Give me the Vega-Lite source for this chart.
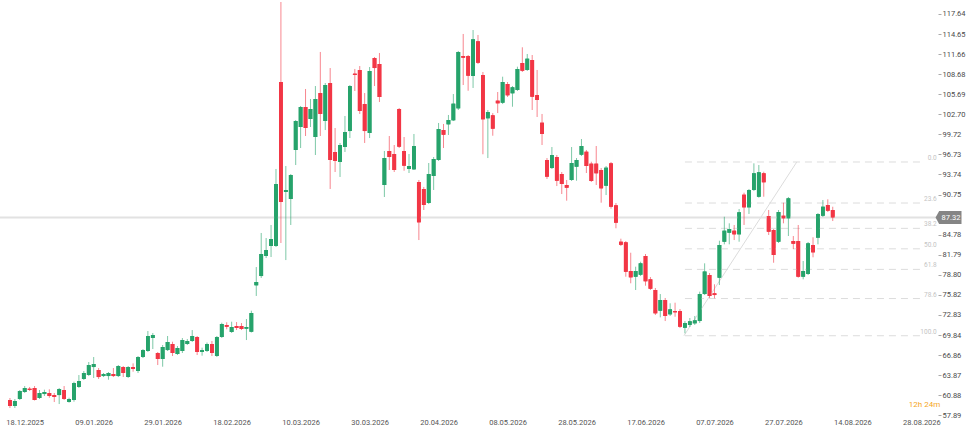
{
"$schema": "https://vega.github.io/schema/vega-lite/v6.json",
"width": 938, "height": 416, "autosize": "none",
"padding": {"left": 0, "top": 0, "right": 28, "bottom": 16},
"background": "white",
"config": {"view": {"stroke": null}, "font": "Roboto", "axis": {"labelOverlap": false}},
"datasets": {
"k": [
{"i":0,"o":60.16,"h":60.46,"l":58.97,"c":59.27},
{"i":1,"o":59.27,"h":60.31,"l":58.97,"c":60.01},
{"i":2,"o":60.31,"h":61.65,"l":60.16,"c":61.50},
{"i":3,"o":61.35,"h":62.24,"l":61.20,"c":61.95},
{"i":4,"o":61.84,"h":62.10,"l":61.50,"c":61.65},
{"i":5,"o":61.95,"h":62.24,"l":60.09,"c":60.16},
{"i":6,"o":60.46,"h":61.65,"l":60.31,"c":61.20},
{"i":7,"o":61.05,"h":61.70,"l":60.76,"c":61.35},
{"i":8,"o":61.20,"h":61.75,"l":60.50,"c":60.76},
{"i":9,"o":60.90,"h":61.20,"l":59.86,"c":60.61},
{"i":10,"o":60.90,"h":61.95,"l":59.56,"c":61.80},
{"i":11,"o":61.65,"h":62.24,"l":60.16,"c":60.31},
{"i":12,"o":59.86,"h":60.50,"l":59.76,"c":60.31},
{"i":13,"o":60.16,"h":62.89,"l":59.91,"c":62.69},
{"i":14,"o":62.10,"h":63.88,"l":61.95,"c":62.99},
{"i":15,"o":63.29,"h":64.48,"l":63.14,"c":64.18},
{"i":16,"o":63.88,"h":65.82,"l":63.73,"c":65.37},
{"i":17,"o":65.07,"h":66.56,"l":63.44,"c":65.52},
{"i":18,"o":64.63,"h":64.92,"l":63.29,"c":63.58},
{"i":19,"o":63.73,"h":64.18,"l":63.58,"c":64.03},
{"i":20,"o":63.73,"h":64.33,"l":63.18,"c":64.18},
{"i":21,"o":64.03,"h":64.92,"l":63.58,"c":63.73},
{"i":22,"o":63.73,"h":65.37,"l":63.58,"c":65.22},
{"i":23,"o":65.07,"h":65.22,"l":63.58,"c":64.18},
{"i":24,"o":63.58,"h":65.22,"l":63.44,"c":65.07},
{"i":25,"o":65.07,"h":65.62,"l":64.38,"c":64.78},
{"i":26,"o":64.48,"h":66.71,"l":64.18,"c":66.56},
{"i":27,"o":66.56,"h":67.75,"l":66.41,"c":67.60},
{"i":28,"o":67.46,"h":70.43,"l":67.31,"c":69.69},
{"i":29,"o":69.39,"h":70.14,"l":67.75,"c":69.84},
{"i":30,"o":67.16,"h":67.31,"l":65.37,"c":66.27},
{"i":31,"o":66.27,"h":68.35,"l":65.12,"c":68.05},
{"i":32,"o":67.60,"h":69.69,"l":67.46,"c":68.80},
{"i":33,"o":68.50,"h":68.84,"l":66.71,"c":67.16},
{"i":34,"o":67.01,"h":68.20,"l":66.86,"c":67.90},
{"i":35,"o":67.46,"h":69.39,"l":67.16,"c":69.09},
{"i":36,"o":68.50,"h":69.24,"l":68.35,"c":68.95},
{"i":37,"o":68.95,"h":70.58,"l":68.80,"c":69.69},
{"i":38,"o":69.54,"h":69.69,"l":66.86,"c":67.31},
{"i":39,"o":67.31,"h":67.95,"l":66.76,"c":67.60},
{"i":40,"o":67.46,"h":68.72,"l":67.31,"c":68.50},
{"i":41,"o":68.50,"h":68.95,"l":66.71,"c":67.16},
{"i":42,"o":66.71,"h":69.69,"l":66.56,"c":69.54},
{"i":43,"o":69.54,"h":71.67,"l":69.39,"c":71.48},
{"i":44,"o":71.33,"h":71.73,"l":70.69,"c":71.07},
{"i":45,"o":70.29,"h":71.82,"l":70.14,"c":71.03},
{"i":46,"o":71.18,"h":71.77,"l":70.58,"c":70.88},
{"i":47,"o":71.18,"h":71.62,"l":70.58,"c":70.73},
{"i":48,"o":70.78,"h":72.22,"l":69.09,"c":71.03},
{"i":49,"o":70.33,"h":73.46,"l":70.21,"c":73.11},
{"i":50,"o":77.24,"h":79.96,"l":75.65,"c":77.73},
{"i":51,"o":78.62,"h":85.03,"l":78.33,"c":81.90},
{"i":52,"o":81.60,"h":84.28,"l":81.30,"c":82.49},
{"i":53,"o":83.09,"h":86.22,"l":81.45,"c":84.13},
{"i":54,"o":83.09,"h":94.56,"l":82.94,"c":92.32},
{"i":55,"o":107.51,"h":119.42,"l":83.54,"c":89.64},
{"i":56,"o":91.13,"h":95.00,"l":81.00,"c":91.43},
{"i":57,"o":90.09,"h":93.81,"l":86.22,"c":93.66},
{"i":58,"o":97.39,"h":101.85,"l":95.15,"c":101.70},
{"i":59,"o":100.81,"h":103.94,"l":97.68,"c":103.79},
{"i":60,"o":103.79,"h":106.47,"l":99.47,"c":100.66},
{"i":61,"o":102.00,"h":104.98,"l":100.81,"c":103.49},
{"i":62,"o":99.32,"h":106.91,"l":96.64,"c":104.98},
{"i":63,"o":105.87,"h":111.98,"l":99.47,"c":102.75},
{"i":64,"o":101.70,"h":107.36,"l":100.36,"c":107.06},
{"i":65,"o":107.36,"h":109.59,"l":91.58,"c":95.90},
{"i":66,"o":97.09,"h":100.66,"l":94.11,"c":95.75},
{"i":67,"o":95.60,"h":98.43,"l":93.37,"c":98.13},
{"i":68,"o":97.83,"h":102.45,"l":97.09,"c":100.07},
{"i":69,"o":100.21,"h":107.06,"l":99.17,"c":106.91},
{"i":70,"o":108.75,"h":109.45,"l":106.17,"c":108.55},
{"i":71,"o":109.30,"h":109.89,"l":102.75,"c":103.19},
{"i":72,"o":104.23,"h":105.87,"l":98.43,"c":100.21},
{"i":73,"o":99.92,"h":109.74,"l":99.17,"c":109.15},
{"i":74,"o":111.08,"h":111.23,"l":106.91,"c":109.59},
{"i":75,"o":110.19,"h":111.83,"l":104.53,"c":105.28},
{"i":76,"o":92.17,"h":97.24,"l":90.39,"c":96.19},
{"i":77,"o":97.24,"h":99.47,"l":94.41,"c":96.34},
{"i":78,"o":96.79,"h":98.13,"l":94.11,"c":94.41},
{"i":79,"o":103.49,"h":103.64,"l":97.68,"c":97.88},
{"i":80,"o":97.24,"h":99.32,"l":94.30,"c":95.05},
{"i":81,"o":94.56,"h":96.79,"l":93.96,"c":95.00},
{"i":82,"o":94.51,"h":99.77,"l":94.41,"c":97.98},
{"i":83,"o":92.62,"h":92.92,"l":83.98,"c":86.62},
{"i":84,"o":91.58,"h":91.88,"l":88.45,"c":89.20},
{"i":85,"o":89.49,"h":95.45,"l":89.34,"c":93.81},
{"i":86,"o":93.51,"h":96.34,"l":91.43,"c":96.05},
{"i":87,"o":95.90,"h":101.41,"l":95.75,"c":100.51},
{"i":88,"o":100.36,"h":101.26,"l":97.68,"c":99.66},
{"i":89,"o":101.21,"h":102.60,"l":99.62,"c":101.85},
{"i":90,"o":101.81,"h":105.72,"l":101.70,"c":104.28},
{"i":91,"o":103.59,"h":112.13,"l":103.34,"c":111.98},
{"i":92,"o":111.38,"h":114.66,"l":107.06,"c":111.13},
{"i":93,"o":111.38,"h":111.53,"l":106.21,"c":108.45},
{"i":94,"o":108.40,"h":115.25,"l":106.62,"c":113.87},
{"i":95,"o":113.57,"h":114.51,"l":110.19,"c":110.38},
{"i":96,"o":108.55,"h":109.00,"l":96.75,"c":101.96},
{"i":97,"o":102.11,"h":103.34,"l":96.19,"c":103.04},
{"i":98,"o":102.55,"h":102.89,"l":99.51,"c":100.56},
{"i":99,"o":104.73,"h":106.02,"l":102.89,"c":104.34},
{"i":100,"o":104.43,"h":108.30,"l":104.23,"c":107.51},
{"i":101,"o":107.21,"h":107.51,"l":105.28,"c":105.53},
{"i":102,"o":105.83,"h":106.91,"l":103.83,"c":106.72},
{"i":103,"o":106.32,"h":109.79,"l":106.17,"c":109.45},
{"i":104,"o":110.34,"h":112.68,"l":109.00,"c":109.19},
{"i":105,"o":109.30,"h":111.68,"l":109.15,"c":110.98},
{"i":106,"o":110.79,"h":111.53,"l":103.34,"c":105.32},
{"i":107,"o":105.57,"h":109.30,"l":102.30,"c":104.83},
{"i":108,"o":101.45,"h":102.75,"l":98.13,"c":99.77},
{"i":109,"o":95.90,"h":96.19,"l":93.07,"c":93.41},
{"i":110,"o":94.70,"h":97.83,"l":94.56,"c":96.64},
{"i":111,"o":96.34,"h":96.64,"l":92.02,"c":92.81},
{"i":112,"o":93.81,"h":94.11,"l":90.83,"c":92.32},
{"i":113,"o":92.17,"h":92.92,"l":89.84,"c":91.77},
{"i":114,"o":92.92,"h":97.83,"l":92.77,"c":95.45},
{"i":115,"o":94.90,"h":96.19,"l":92.81,"c":95.90},
{"i":116,"o":96.69,"h":99.02,"l":96.49,"c":97.98},
{"i":117,"o":97.13,"h":97.39,"l":93.96,"c":95.00},
{"i":118,"o":95.35,"h":95.64,"l":92.62,"c":92.77},
{"i":119,"o":95.35,"h":97.98,"l":92.17,"c":93.92},
{"i":120,"o":94.41,"h":94.70,"l":89.54,"c":91.68},
{"i":121,"o":92.07,"h":95.00,"l":90.68,"c":94.75},
{"i":122,"o":95.40,"h":95.60,"l":88.65,"c":88.94},
{"i":123,"o":89.15,"h":89.49,"l":85.73,"c":86.56},
{"i":124,"o":83.73,"h":84.18,"l":83.09,"c":83.28},
{"i":125,"o":83.64,"h":83.83,"l":78.52,"c":79.26},
{"i":126,"o":79.37,"h":82.09,"l":77.54,"c":78.43},
{"i":127,"o":78.52,"h":80.01,"l":76.54,"c":79.37},
{"i":128,"o":78.82,"h":80.75,"l":78.62,"c":80.51},
{"i":129,"o":81.60,"h":81.90,"l":77.18,"c":77.84},
{"i":130,"o":78.13,"h":78.47,"l":76.54,"c":76.73},
{"i":131,"o":76.54,"h":76.84,"l":72.82,"c":73.07},
{"i":132,"o":73.46,"h":75.94,"l":72.47,"c":75.05},
{"i":133,"o":75.05,"h":75.35,"l":71.92,"c":72.67},
{"i":134,"o":72.92,"h":74.56,"l":72.67,"c":73.66},
{"i":135,"o":73.41,"h":74.65,"l":72.56,"c":73.22},
{"i":136,"o":73.41,"h":73.71,"l":70.88,"c":71.07},
{"i":137,"o":70.92,"h":71.92,"l":70.09,"c":71.63},
{"i":138,"o":71.33,"h":72.37,"l":71.03,"c":71.88},
{"i":139,"o":71.58,"h":72.67,"l":71.33,"c":72.03},
{"i":140,"o":71.92,"h":76.29,"l":71.63,"c":75.94},
{"i":141,"o":75.94,"h":80.51,"l":75.79,"c":79.29},
{"i":142,"o":78.77,"h":79.07,"l":75.35,"c":75.65},
{"i":143,"o":76.05,"h":77.39,"l":75.30,"c":75.79},
{"i":144,"o":78.37,"h":83.88,"l":77.28,"c":83.24},
{"i":145,"o":83.73,"h":87.45,"l":83.34,"c":85.37},
{"i":146,"o":85.07,"h":86.47,"l":83.34,"c":85.62},
{"i":147,"o":85.37,"h":86.22,"l":83.98,"c":84.83},
{"i":148,"o":84.83,"h":88.60,"l":83.73,"c":88.11},
{"i":149,"o":90.73,"h":91.03,"l":86.22,"c":88.85},
{"i":150,"o":88.85,"h":91.58,"l":87.86,"c":91.43},
{"i":151,"o":91.43,"h":95.40,"l":91.28,"c":93.92},
{"i":152,"o":90.43,"h":95.15,"l":90.28,"c":94.07},
{"i":153,"o":93.92,"h":94.15,"l":90.43,"c":92.58},
{"i":154,"o":87.56,"h":88.45,"l":84.73,"c":85.22},
{"i":155,"o":85.47,"h":85.62,"l":80.60,"c":81.75},
{"i":156,"o":83.73,"h":88.45,"l":83.54,"c":88.15},
{"i":157,"o":87.60,"h":89.54,"l":86.47,"c":87.21},
{"i":158,"o":87.21,"h":90.39,"l":84.58,"c":90.19},
{"i":159,"o":83.83,"h":84.58,"l":82.64,"c":83.43},
{"i":160,"o":83.83,"h":86.22,"l":78.37,"c":78.52},
{"i":161,"o":78.52,"h":80.86,"l":78.13,"c":79.37},
{"i":162,"o":78.92,"h":83.69,"l":78.77,"c":83.49},
{"i":163,"o":83.24,"h":84.39,"l":81.41,"c":82.15},
{"i":164,"o":84.33,"h":88.00,"l":83.34,"c":87.86},
{"i":165,"o":87.60,"h":89.94,"l":87.41,"c":88.94},
{"i":166,"o":89.20,"h":90.04,"l":88.15,"c":88.35},
{"i":167,"o":88.45,"h":88.94,"l":86.81,"c":87.32}
],
"fib": [
{"lbl":"0.0","v":95.60},
{"lbl":"23.6","v":89.49},
{"lbl":"38.2","v":85.72},
{"lbl":"50.0","v":82.67},
{"lbl":"61.8","v":79.61},
{"lbl":"78.6","v":75.27},
{"lbl":"100.0","v":69.73}
],
"diag": [
{"i":136.8,"v":69.73},
{"i":159.7,"v":95.60}
],
"last": [{"p":87.32,"txt":"87.32"}]
},
"layer": [
{
"data": {"name": "k"},
"mark": {"type": "bar", "orient": "vertical", "width": 3.8},
"encoding": {
"x": {"field": "i", "type": "quantitative",
"scale": {"domain": [-1, 187.35], "nice": false, "zero": false},
"axis": {"values": [3, 17, 31, 45, 59, 73, 87, 101, 115, 129, 143, 157, 171, 185], "tickCount": 30,
"labelExpr": "['18.12.2025','09.01.2026','29.01.2026','18.02.2026','10.03.2026','30.03.2026','20.04.2026','08.05.2026','28.05.2026','17.06.2026','07.07.2026','27.07.2026','14.08.2026','28.08.2026'][round((datum.value-3)/14)]",
"labelFontSize": 7.5, "labelColor": "#555555", "ticks": false, "domain": false, "grid": false, "title": null,
"labelPadding": 2, "labelFlush": false, "labelOverlap": false}},
"y": {"field": "o", "type": "quantitative",
"scale": {"domain": [57.78, 119.72], "nice": false, "zero": false},
"axis": {"orient": "right", "values": [57.89, 60.88, 63.87, 66.86, 69.84, 72.83, 75.82, 78.80, 81.79, 84.78, 90.75, 93.74, 96.73, 99.72, 102.70, 105.69, 108.68, 111.66, 114.65, 117.64], "tickCount": 30,
"format": ".2f", "labelFontSize": 7.5, "labelColor": "#4a4a4a", "tickSize": 3, "tickColor": "#aaaaaa",
"domain": false, "grid": false, "title": null, "labelPadding": 1, "labelOverlap": false, "labelFlush": false}},
"y2": {"field": "c"},
"color": {"condition": {"test": "datum.c >= datum.o", "value": "#26a36b"}, "value": "#f23645"}
}
},
{
"data": {"name": "fib"},
"mark": {"type": "rule", "color": "#dcdcdc", "strokeWidth": 1, "strokeDash": [7, 5]},
"encoding": {
"x": {"datum": 137, "type": "quantitative", "scale": {"domain": [-1, 187.35], "nice": false, "zero": false}},
"x2": {"datum": 185.3},
"y": {"field": "v", "type": "quantitative", "scale": {"domain": [57.78, 119.72], "nice": false, "zero": false}}
}
},
{
"data": {"name": "fib"},
"mark": {"type": "text", "align": "right", "baseline": "bottom", "dy": -1, "fontSize": 6.5, "color": "#c4c4c4"},
"encoding": {
"x": {"datum": 188.1, "type": "quantitative", "scale": {"domain": [-1, 187.35], "nice": false, "zero": false}},
"y": {"field": "v", "type": "quantitative", "scale": {"domain": [57.78, 119.72], "nice": false, "zero": false}},
"text": {"field": "lbl"}
}
},
{
"data": {"name": "diag"},
"mark": {"type": "line", "color": "#dcdcdc", "strokeWidth": 1},
"encoding": {
"x": {"field": "i", "type": "quantitative", "scale": {"domain": [-1, 187.35], "nice": false, "zero": false}},
"y": {"field": "v", "type": "quantitative", "scale": {"domain": [57.78, 119.72], "nice": false, "zero": false}}
}
},
{
"data": {"name": "last"},
"mark": {"type": "rule", "color": "#e2e2e2", "strokeWidth": 2},
"encoding": {
"y": {"field": "p", "type": "quantitative", "scale": {"domain": [57.78, 119.72], "nice": false, "zero": false}}
}
},
{
"data": {"name": "k"},
"mark": {"type": "rule", "strokeWidth": 1, "opacity": 0.6},
"encoding": {
"x": {"field": "i", "type": "quantitative", "scale": {"domain": [-1, 187.35], "nice": false, "zero": false}},
"y": {"field": "l", "type": "quantitative", "scale": {"domain": [57.78, 119.72], "nice": false, "zero": false}},
"y2": {"field": "h"},
"color": {"condition": {"test": "datum.c >= datum.o", "value": "#26a36b"}, "value": "#f23645"}
}
},
{
"data": {"name": "k"},
"mark": {"type": "bar", "orient": "vertical", "width": 3.8},
"encoding": {
"x": {"field": "i", "type": "quantitative", "scale": {"domain": [-1, 187.35], "nice": false, "zero": false}},
"y": {"field": "o", "type": "quantitative", "scale": {"domain": [57.78, 119.72], "nice": false, "zero": false}},
"y2": {"field": "c"},
"color": {"condition": {"test": "datum.c >= datum.o", "value": "#26a36b"}, "value": "#f23645"}
}
},
{
"data": {"name": "last"},
"mark": {"type": "point", "shape": "M-1,0L-0.72,-0.5L1,-0.5L1,0.5L-0.72,0.5Z", "filled": true, "opacity": 1, "color": "#858585", "strokeWidth": 0, "size": 676},
"encoding": {
"x": {"datum": 190.5, "type": "quantitative", "scale": {"domain": [-1, 187.35], "nice": false, "zero": false}},
"y": {"field": "p", "type": "quantitative", "scale": {"domain": [57.78, 119.72], "nice": false, "zero": false}}
}
},
{
"data": {"name": "last"},
"mark": {"type": "text", "align": "center", "baseline": "middle", "fontSize": 7.5, "color": "#ffffff"},
"encoding": {
"x": {"datum": 191, "type": "quantitative", "scale": {"domain": [-1, 187.35], "nice": false, "zero": false}},
"y": {"field": "p", "type": "quantitative", "scale": {"domain": [57.78, 119.72], "nice": false, "zero": false}},
"text": {"field": "txt"}
}
},
{
"data": {"values": [{"t": "12h 24m", "v": 59.42}]},
"mark": {"type": "text", "align": "right", "baseline": "middle", "fontSize": 8, "color": "#f5a623"},
"encoding": {
"x": {"datum": 188.8, "type": "quantitative", "scale": {"domain": [-1, 187.35], "nice": false, "zero": false}},
"y": {"field": "v", "type": "quantitative", "scale": {"domain": [57.78, 119.72], "nice": false, "zero": false}},
"text": {"field": "t"}
}
}
]
}
